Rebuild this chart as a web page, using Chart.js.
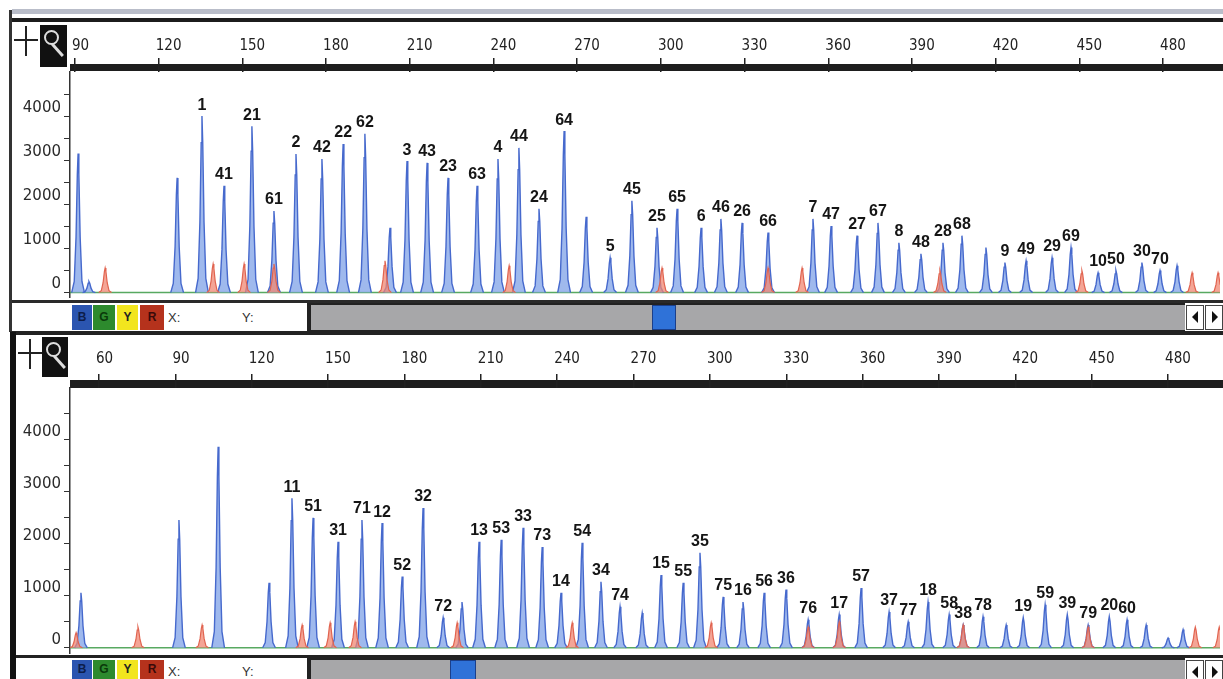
<!DOCTYPE html>
<html>
<head>
<meta charset="utf-8">
<script src="https://cdn.jsdelivr.net/npm/chart.js@4.4.1/dist/chart.umd.min.js"></script>
<style>
    body { margin: 0; width: 1223px; height: 679px; overflow: hidden; background: #fff; position: relative; font-family: "Liberation Sans", Arial, sans-serif; }
    .abs { position: absolute; }
    .plus-v { position: absolute; width: 2px; height: 30px; background: #222; }
    .plus-h { position: absolute; width: 24px; height: 2px; background: #222; }
    .mag { position: absolute; background: #111; }
    .mag .lens { position: absolute; left: 4px; top: 5px; width: 11px; height: 11px; border: 2px solid #ddd; border-radius: 50%; }
    .mag .handle { position: absolute; left: 16px; top: 17px; width: 3px; height: 16px; background: #ddd; transform: rotate(-42deg); }
    .dye { position: absolute; font: bold 12px "Liberation Sans", Arial, sans-serif; text-align: center; }
    .xy { position: absolute; font: 13px "Liberation Sans", Arial, sans-serif; color: #333; }
    .scroll { position: absolute; background: #a7a7a9; border-top: 2px solid #222; border-bottom: 2px solid #222; }
    .thumb { position: absolute; background: #2f72d8; border: 1px solid #1b3f8a; }
    .arrow { position: absolute; background: #fff; border: 1px solid #444; }
    .tri-l { position: absolute; left: 5px; top: 5px; width: 0; height: 0; border-top: 6px solid transparent; border-bottom: 6px solid transparent; border-right: 6px solid #111; }
    .tri-r { position: absolute; left: 6px; top: 5px; width: 0; height: 0; border-top: 6px solid transparent; border-bottom: 6px solid transparent; border-left: 6px solid #111; }
</style>
</head>
<body>

<!-- upper panel chrome -->
<div class="abs" style="left:12px;top:9px;width:1211px;height:5px;background:#b9bdc9"></div>
<div class="abs" style="left:12px;top:18px;width:1211px;height:4px;background:#1c1c1c"></div>
<div class="abs" style="left:9px;top:10px;width:3px;height:322px;background:#333"></div>
<div class="plus-v" style="left:25px;top:26px"></div>
<div class="plus-h" style="left:14px;top:39px"></div>
<div class="mag" style="left:40px;top:25px;width:27px;height:42px"><div class="lens"></div><div class="handle"></div></div>
<div class="abs" style="left:70px;top:64px;width:1153px;height:7px;background:#1e1e1e"></div>
<div class="abs" style="left:12px;top:300px;width:1211px;height:3px;background:#2a2a2a"></div>
<div class="dye" style="left:72px;top:305px;width:20px;height:25px;line-height:25px;background:#2b55b0;color:#0d1d4a">B</div>
<div class="dye" style="left:93px;top:305px;width:22px;height:25px;line-height:25px;background:#2d8a2d;color:#0a3a0a">G</div>
<div class="dye" style="left:117px;top:305px;width:21px;height:25px;line-height:25px;background:#f2e51e;color:#222">Y</div>
<div class="dye" style="left:140px;top:305px;width:24px;height:25px;line-height:25px;background:#b5321c;color:#3a0a0a">R</div>
<div class="xy" style="left:168px;top:310px">X:</div>
<div class="xy" style="left:242px;top:310px">Y:</div>
<div class="abs" style="left:307px;top:303px;width:4px;height:29px;background:#222"></div>
<div class="scroll" style="left:311px;top:303px;width:874px;height:25px"></div>
<div class="thumb" style="left:652px;top:305px;width:22px;height:23px"></div>
<div class="arrow" style="left:1186px;top:305px;width:16px;height:23px"><div class="tri-l"></div></div>
<div class="arrow" style="left:1205px;top:305px;width:16px;height:23px"><div class="tri-r"></div></div>
<div class="abs" style="left:10px;top:331px;width:1213px;height:4px;background:#222"></div>

<!-- lower panel chrome -->
<div class="abs" style="left:10px;top:332px;width:6px;height:347px;background:#111"></div>
<div class="plus-v" style="left:29px;top:339px"></div>
<div class="plus-h" style="left:18px;top:352px"></div>
<div class="mag" style="left:42px;top:337px;width:26px;height:40px"><div class="lens"></div><div class="handle"></div></div>
<div class="abs" style="left:70px;top:380px;width:1153px;height:8px;background:#1e1e1e"></div>
<div class="abs" style="left:16px;top:655px;width:1207px;height:3px;background:#222"></div>
<div class="dye" style="left:72px;top:660px;width:20px;height:19px;line-height:19px;background:#2b55b0;color:#0d1d4a">B</div>
<div class="dye" style="left:93px;top:660px;width:22px;height:19px;line-height:19px;background:#2d8a2d;color:#0a3a0a">G</div>
<div class="dye" style="left:117px;top:660px;width:21px;height:19px;line-height:19px;background:#f2e51e;color:#222">Y</div>
<div class="dye" style="left:140px;top:660px;width:24px;height:19px;line-height:19px;background:#b5321c;color:#3a0a0a">R</div>
<div class="xy" style="left:168px;top:664px">X:</div>
<div class="xy" style="left:242px;top:664px">Y:</div>
<div class="abs" style="left:307px;top:658px;width:4px;height:21px;background:#222"></div>
<div class="scroll" style="left:311px;top:658px;width:874px;height:21px;border-bottom:none"></div>
<div class="thumb" style="left:450px;top:660px;width:24px;height:19px"></div>
<div class="arrow" style="left:1186px;top:660px;width:16px;height:19px"><div class="tri-l"></div></div>
<div class="arrow" style="left:1205px;top:660px;width:16px;height:19px"><div class="tri-r"></div></div>

<div class="abs" style="left:0;top:22px;width:1223px;height:278px"><canvas id="top_chart"></canvas></div>
<div class="abs" style="left:0;top:332px;width:1223px;height:323px"><canvas id="bottom_chart"></canvas></div>

<script>
// upper run: blue dye peaks (size in bp, height in RFU, allele name)
var topSizes = [91.1, 95.0, 126.6, 135.5, 143.4, 153.4, 161.3, 169.2, 178.5, 186.1, 193.9, 202.9, 209.0, 216.2, 223.7, 234.1,
    241.6, 249.1, 256.3, 265.3, 273.2, 281.8, 289.6, 298.6, 305.8, 314.4, 321.5, 329.1, 338.4, 354.5, 361.0, 370.3, 377.8,
    385.3, 393.2, 401.1, 407.9, 416.5, 423.3, 430.9, 440.2, 447.0, 456.7, 463.1, 472.4, 478.9, 485.0];
var topHeights = [3150, 250, 2600, 4000, 2420, 3770, 1850, 3140, 3030, 3370, 3600, 1470, 2980, 2940, 2600, 2420,
    3030, 3280, 1900, 3660, 1720, 790, 2080, 1470, 1900, 1470, 1670, 1580, 1360, 1670, 1510, 1290, 1580,
    1130, 880, 1130, 1290, 1020, 680, 720, 790, 1020, 450, 500, 680, 500, 610];
var topNames = ['', '', '', '1', '41', '21', '61', '2', '42', '22', '62', '', '3', '43', '23', '63',
    '4', '44', '24', '64', '', '5', '45', '25', '65', '6', '46', '26', '66', '7', '47', '27', '67',
    '8', '48', '28', '68', '', '9', '49', '29', '69', '10', '50', '30', '70', ''];
// upper run: red dye (size standard) peaks
var topRedSizes = [100.8, 139.5, 150.6, 161.3, 201.1, 245.6, 300.4, 338.4, 350.6, 400.0, 450.9, 490.4, 499.7];
var topRedHeights = [560, 650, 650, 650, 720, 610, 560, 560, 560, 500, 500, 450, 450];
var topTicks = [90, 120, 150, 180, 210, 240, 270, 300, 330, 360, 390, 420, 450, 480];

// lower run
var botSizes = [52.9, 91.4, 106.8, 126.8, 135.8, 144.1, 153.9, 163.3, 171.2, 179.1, 187.3, 195.2, 202.6, 209.3, 218.0, 226.6,
    234.1, 241.5, 249.8, 257.2, 264.7, 273.4, 280.8, 289.5, 296.1, 305.2, 313.0, 321.3, 329.9, 338.6, 350.8, 359.4,
    370.4, 377.9, 385.7, 394.0, 399.5, 407.3, 416.4, 423.1, 431.7, 440.4, 448.6, 456.9, 463.9, 471.4, 480.0, 485.9];
var botHeights = [1060, 2460, 3870, 1250, 2880, 2500, 2040, 2460, 2400, 1370, 2690, 580, 880, 2040, 2080, 2310,
    1940, 1060, 2020, 1270, 790, 670, 1400, 1250, 1830, 980, 880, 1060, 1120, 540, 640, 1150,
    690, 500, 880, 640, 440, 600, 440, 580, 830, 640, 440, 600, 540, 440, 190, 350];
var botNames = ['', '', '', '', '11', '51', '31', '71', '12', '52', '32', '72', '', '13', '53', '33',
    '73', '14', '54', '34', '74', '', '15', '55', '35', '75', '16', '56', '36', '76', '17', '57',
    '37', '77', '18', '58', '38', '78', '', '19', '59', '39', '79', '20', '60', '', '', ''];
var botRedSizes = [51.0, 75.3, 100.5, 139.8, 150.8, 160.6, 200.7, 245.9, 300.5, 338.6, 350.8, 399.5, 448.6, 490.7, 500.1];
var botRedHeights = [290, 400, 440, 440, 480, 500, 480, 480, 480, 400, 500, 440, 400, 400, 400];
var botTicks = [60, 90, 120, 150, 180, 210, 240, 270, 300, 330, 360, 390, 420, 450, 480];

var yTicks = [0, 500, 1000, 1500, 2000, 2500, 3000, 3500, 4000, 4500];
var yLabels = [0, 1000, 2000, 3000, 4000];

// peak outline (offset in half-widths, fraction of height)
var PROFILE = [[-1, 0], [-0.6, 0.08], [-0.32, 0.4], [-0.12, 0.85], [0, 1], [0.12, 0.85], [0.32, 0.4], [0.6, 0.08], [1, 0]];

function peakTrace(sizes, heights, halfWidth) {
    var pts = [];
    sizes.forEach(function (s, i) {
        PROFILE.forEach(function (p) {
            pts.push({ x: s + p[0] * halfWidth, y: heights[i] * p[1] });
        });
    });
    return pts;
}

// hide the flat join between two peaks so the green baseline shows
function hideFlat(ctx) {
    return (ctx.p0.parsed.y === 0 && ctx.p1.parsed.y === 0) ? 'rgba(0,0,0,0)' : undefined;
}

var peakLabels = {
    id: 'peakLabels',
    afterDatasetsDraw: function (chart) {
        var o = chart.options.plugins.peakLabels;
        var ctx = chart.ctx, xs = chart.scales.x, ys = chart.scales.y;
        ctx.save();
        ctx.font = 'bold 16px "Liberation Sans", Arial, sans-serif';
        ctx.fillStyle = '#151515';
        ctx.textAlign = 'center';
        ctx.textBaseline = 'bottom';
        o.sizes.forEach(function (s, i) {
            if (!o.names[i]) return;
            ctx.fillText(o.names[i], xs.getPixelForValue(s), ys.getPixelForValue(o.heights[i]) - 3);
        });
        ctx.restore();
    }
};

function initRun(id, sizes, heights, names, redSizes, redHeights, ticks, xMin, xMax, halfWidth, axisHeight, padBottom, labelPad) {
    var config = {
        type: 'line',
        data: {
            datasets: [{
                data: peakTrace(redSizes, redHeights, halfWidth),
                borderColor: 'rgb(225, 100, 80)',
                backgroundColor: 'rgba(240, 135, 115, 0.75)',
                borderWidth: 1.2,
                fill: 'origin',
                segment: { borderColor: hideFlat },
                order: 1
            }, {
                data: peakTrace(sizes, heights, halfWidth),
                borderColor: 'rgba(70, 105, 205, 1)',
                backgroundColor: 'rgba(135, 168, 232, 0.8)',
                borderWidth: 1.4,
                fill: 'origin',
                segment: { borderColor: hideFlat },
                order: 2
            }, {
                data: [{ x: xMin, y: 0 }, { x: xMax, y: 0 }],
                borderColor: 'rgba(70, 160, 80, 0.9)',
                borderWidth: 1.5,
                fill: false,
                order: 3
            }]
        },
        options: {
            responsive: true,
            maintainAspectRatio: false,
            animation: false,
            parsing: false,
            elements: { point: { radius: 0 }, line: { tension: 0 } },
            layout: { padding: { left: 0, right: 3, top: 0, bottom: padBottom } },
            plugins: {
                legend: { display: false },
                tooltip: { enabled: false },
                peakLabels: { sizes: sizes, heights: heights, names: names }
            },
            scales: {
                x: {
                    type: 'linear',
                    position: 'top',
                    min: xMin,
                    max: xMax,
                    afterBuildTicks: function (scale) {
                        scale.ticks = ticks.map(function (v) { return { value: v }; });
                    },
                    afterFit: function (scale) {
                        scale.height = axisHeight;
                        scale.paddingLeft = 0;
                        scale.paddingRight = 0;
                    },
                    border: { display: false },
                    grid: { drawOnChartArea: false, drawTicks: true, tickLength: 14, color: '#222', lineWidth: 1.5 },
                    ticks: {
                        autoSkip: false,
                        maxRotation: 0,
                        align: 'start',
                        labelOffset: -3,
                        padding: labelPad,
                        color: '#222',
                        font: { family: '"Liberation Sans Narrow", "DejaVu Sans Condensed", sans-serif', size: 15 },
                        callback: function (v) { return String(v); }
                    }
                },
                y: {
                    type: 'linear',
                    min: -100,
                    max: 5000,
                    afterBuildTicks: function (scale) {
                        scale.ticks = yTicks.map(function (v) { return { value: v }; });
                    },
                    afterFit: function (scale) {
                        scale.width = 70;
                        scale.paddingTop = 0;
                        scale.paddingBottom = 0;
                    },
                    border: { display: true, color: '#333', width: 1.5 },
                    grid: { drawOnChartArea: false, drawTicks: true, tickLength: 6, color: '#333' },
                    ticks: {
                        autoSkip: false,
                        padding: 3,
                        labelOffset: -8,
                        color: '#2a2a2a',
                        font: { family: '"DejaVu Sans", sans-serif', size: 15 },
                        callback: function (v) { return yLabels.indexOf(v) >= 0 ? String(v) : ''; }
                    }
                }
            }
        },
        plugins: [peakLabels]
    };
    return new Chart(document.getElementById(id).getContext('2d'), config);
}

initRun('top_chart', topSizes, topHeights, topNames, topRedSizes, topRedHeights, topTicks, 88.2, 500.4, 2.3, 50, 3, 3);
initRun('bottom_chart', botSizes, botHeights, botNames, botRedSizes, botRedHeights, botTicks, 48.6, 500.4, 2.5, 56, 2, 6);
</script>
</body>
</html>
